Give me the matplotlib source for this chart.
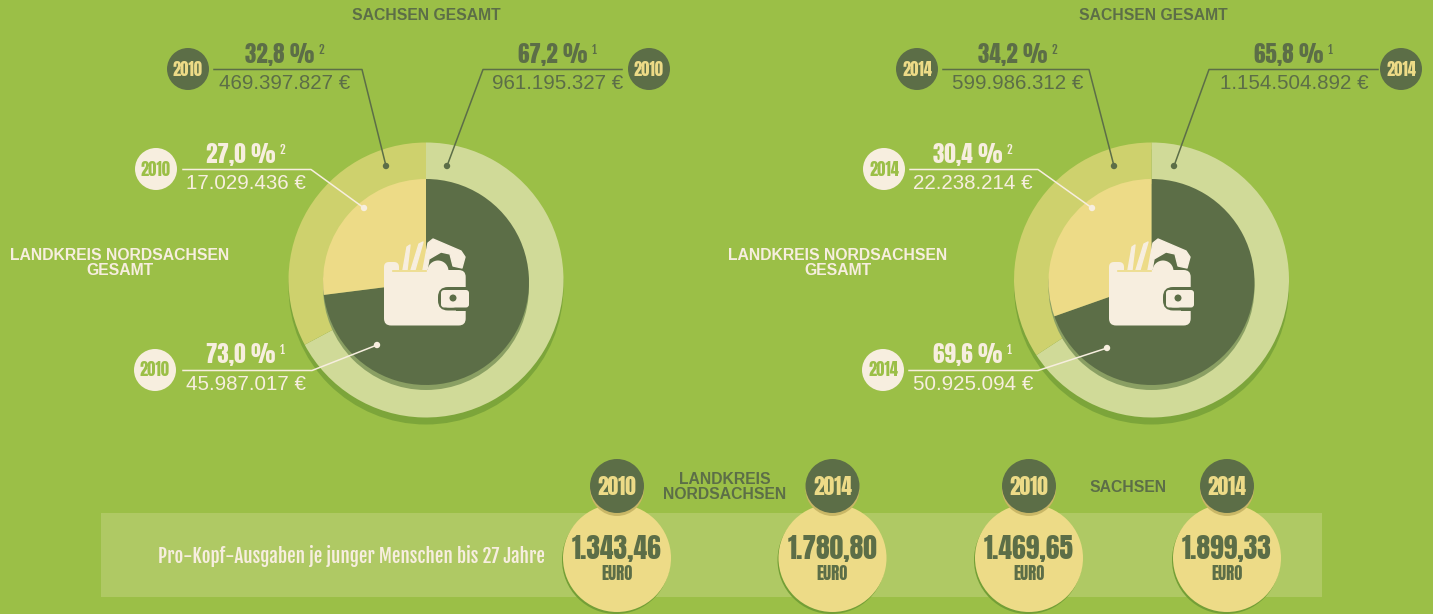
import matplotlib
matplotlib.use('Agg')
import matplotlib.pyplot as plt
from matplotlib.patches import Circle, Rectangle, FancyBboxPatch, Polygon

# Data
years = ['2010', '2014']
sachsen_pct = [[67.2, 32.8], [65.8, 34.2]]
sachsen_eur = [['961.195.327 €', '469.397.827 €'], ['1.154.504.892 €', '599.986.312 €']]
kreis_pct = [[73.0, 27.0], [69.6, 30.4]]
kreis_eur = [['45.987.017 €', '17.029.436 €'], ['50.925.094 €', '22.238.214 €']]
kopf_labels = ['2010', '2014', '2010', '2014']
kopf_values = ['1.343,46', '1.780,80', '1.469,65', '1.899,33']

# Colours
BG = '#9bbf47'
DARK = '#5c6e47'
CREAM = '#f7eedf'
YELLOW = '#eddb87'
RING_L = '#d0da98'
RING_Y = '#ced16d'
SHADOW = '#7ca53a'
BAND = '#afc964'

H = 614
HEAVY = ['Anton', 'Fjalla One', 'Roboto', 'DejaVu Sans']
NARROW = ['Fjalla One', 'Roboto', 'DejaVu Sans']
HELV = ['Liberation Sans', 'DejaVu Sans']

fig = plt.figure(figsize=(14.33, 6.14), dpi=100, facecolor=BG)
ax = fig.add_axes([0, 0, 1, 1])
ax.set_facecolor(BG)


def Y(y):
    return H - y


def fs(px):
    return px * 0.72


def fmt(p):
    return f'{p:.1f} %'.replace('.', ',')


def txt(x, y, s, size, color, family=HELV, weight='normal', ha='center', z=10):
    return ax.text(x, Y(y), s, fontsize=fs(size), color=color, family=family,
                   fontweight=weight, ha=ha, va='center', zorder=z, linespacing=1.0)


def disc(x, y, r, color, z=1):
    ax.add_patch(Circle((x, Y(y)), r, fc=color, ec='none', zorder=z))


def donut(cx, cy, outer, inner):
    disc(cx, cy + 7, 137.5, SHADOW, 0.5)
    w, _ = ax.pie(outer, radius=137.5, center=(cx, Y(cy)), startangle=90, counterclock=False,
                  colors=[RING_L, RING_Y], wedgeprops=dict(linewidth=0), frame=False)
    for p in w:
        p.set_zorder(1)
    disc(cx, cy + 7, 103, '#8a9f63', 1.5)
    w, _ = ax.pie(inner, radius=103, center=(cx, Y(cy + 2)), startangle=90, counterclock=False,
                  colors=[DARK, YELLOW], wedgeprops=dict(linewidth=0), frame=False)
    for p in w:
        p.set_zorder(2)


def box(x0, y0, x1, y1, r, color, z):
    ax.add_patch(FancyBboxPatch((x0 + r, Y(y1) + r), x1 - x0 - 2 * r, y1 - y0 - 2 * r,
                                boxstyle=f'round,pad={r},rounding_size={r}', fc=color, ec='none', zorder=z))


def wallet(dx):
    # notes and hand sticking out
    shapes = [[(403, 270), (407, 247), (410, 245), (407, 270)],
              [(411, 270), (419, 244), (423, 242), (415, 270)],
              [(423, 270), (428, 243), (433, 239), (461, 251), (465, 257), (462, 268),
               (453, 266), (450, 254), (441, 252), (429, 259), (427, 270)]]
    for s in shapes:
        ax.add_patch(Polygon([(x + dx, Y(y)) for x, y in s], fc=CREAM, ec=CREAM, lw=1, joinstyle='round', zorder=3))
    disc(438 + dx, 271, 10.5, CREAM, 3)
    # body
    box(384 + dx, 270, 465.7 + dx, 325.5, 7, CREAM, 4)
    box(384 + dx, 262, 399 + dx, 285, 5, CREAM, 4)
    ax.plot([393 + dx, 426 + dx], [Y(270.5), Y(270.5)], color=YELLOW, lw=1.2, zorder=5)
    # clasp
    box(438 + dx, 287, 466 + dx, 310.5, 10, DARK, 5)
    ax.add_patch(Rectangle((456 + dx, Y(310.5)), 10, 23.5, fc=DARK, ec='none', zorder=5))
    box(441 + dx, 290, 469 + dx, 307.5, 3, CREAM, 6)
    box(441 + dx, 290, 460 + dx, 307.5, 8, CREAM, 6)
    disc(453 + dx, 298, 3.5, DARK, 7)


def callout(badge_x, badge_y, year, pct, sup, eur, x0, elbow, dot, col, year_col, mid):
    disc(badge_x, badge_y, 21, col, 6)
    txt(badge_x, badge_y, year, 16.5, year_col, HEAVY, z=7)
    ly = badge_y + 0.5
    ax.plot([x0, elbow, dot[0]], [Y(ly), Y(ly), Y(dot[1])], color=col, lw=1.1, zorder=6)
    disc(dot[0], dot[1], 3.2, col, 6)
    t = txt(mid, ly - 15.5, pct, 23, col, HEAVY, z=7)
    bb = t.get_window_extent(renderer=fig.canvas.get_renderer())
    txt(bb.x1 + 4, ly - 19.5, sup, 12, col, NARROW, ha='left', z=7)
    txt(mid + 5, ly + 14, eur, 20.5, col)


donut(426, 280, sachsen_pct[0], kreis_pct[0])
donut(1151.5, 280, sachsen_pct[1], kreis_pct[1])
ax.set_xlim(0, 1433)
ax.set_ylim(0, H)
ax.set_aspect('auto')
ax.axis('off')
wallet(0)
wallet(725)

# Titles
txt(426, 16, 'SACHSEN GESAMT', 15.7, DARK, weight='bold')
txt(1153, 16, 'SACHSEN GESAMT', 15.7, DARK, weight='bold')
txt(120, 263, 'LANDKREIS NORDSACHSEN\nGESAMT', 15.7, CREAM, weight='bold')
txt(838, 263, 'LANDKREIS NORDSACHSEN\nGESAMT', 15.7, CREAM, weight='bold')

# 2010 callouts
callout(188, 69, years[0], fmt(sachsen_pct[0][1]), '2', sachsen_eur[0][1], 214, 362, (386, 166), DARK, YELLOW, 280)
callout(649, 69, years[0], fmt(sachsen_pct[0][0]), '1', sachsen_eur[0][0], 622, 483, (447, 166), DARK, YELLOW, 553)
callout(156, 169, years[0], fmt(kreis_pct[0][1]), '2', kreis_eur[0][1], 183, 311, (364, 208), CREAM, BG, 241)
callout(155, 370, years[0], fmt(kreis_pct[0][0]), '1', kreis_eur[0][0], 183, 312, (377, 345), CREAM, BG, 241)
# 2014 callouts
callout(917, 69, years[1], fmt(sachsen_pct[1][1]), '2', sachsen_eur[1][1], 943, 1089, (1114, 166), DARK, YELLOW, 1013)
callout(1401, 69, years[1], fmt(sachsen_pct[1][0]), '1', sachsen_eur[1][0], 1378, 1209, (1174, 166), DARK, YELLOW, 1289)
callout(884, 169, years[1], fmt(kreis_pct[1][1]), '2', kreis_eur[1][1], 910, 1038, (1092, 208), CREAM, BG, 968)
callout(883, 370, years[1], fmt(kreis_pct[1][0]), '1', kreis_eur[1][0], 909, 1038, (1107, 348), CREAM, BG, 968)

# Bottom band
ax.add_patch(Rectangle((101, Y(597)), 1221, 84, fc=BAND, ec='none', zorder=1))
txt(351, 556, 'Pro-Kopf-Ausgaben je junger Menschen bis 27 Jahre', 19, CREAM, NARROW)
txt(725, 487, 'LANDKREIS\nNORDSACHSEN', 15.7, DARK, weight='bold')
txt(1128, 487, 'SACHSEN', 15.7, DARK, weight='bold')

kopf_x = [617, 832.5, 1029, 1227]
for x, yr, val in zip(kopf_x, kopf_labels, kopf_values):
    disc(x - 1, 560, 54, '#739f36', 2)
    disc(x, 558, 54, YELLOW, 3)
    disc(x, 489, 27, '#c9b766', 4)
    disc(x, 486, 27, DARK, 5)
    txt(x, 487, yr, 21.5, YELLOW, HEAVY, z=6)
    txt(x, 549, val, 27.5, DARK, HEAVY, z=6)
    txt(x, 574, 'EURO', 17, DARK, HEAVY, z=6)

fig.savefig('out.png', dpi=100, facecolor=BG)
